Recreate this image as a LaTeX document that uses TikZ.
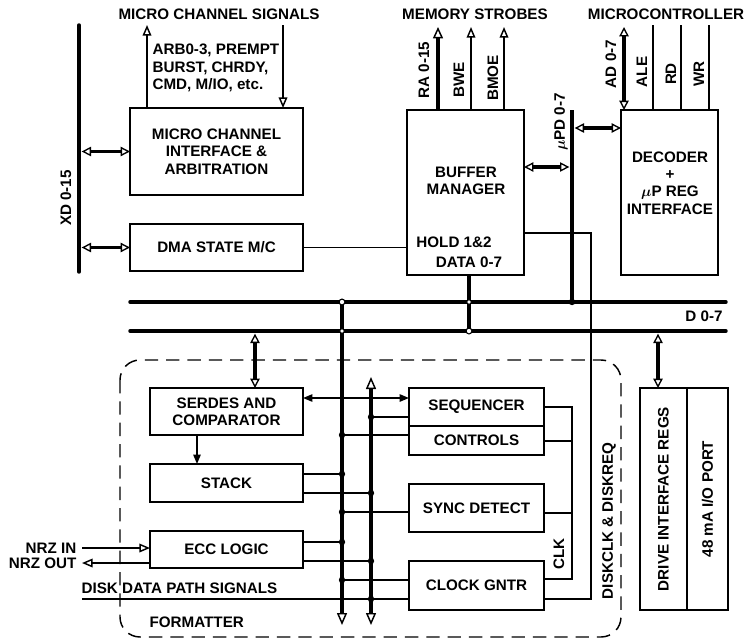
\documentclass[tikz,border=0pt]{standalone}
\usepackage{amsmath}
\usepackage{fontspec}
\setmainfont{Liberation Sans}
\usepackage{tikz}
\usetikzlibrary{positioning, arrows.meta}

\begin{document}
\begin{tikzpicture}[
    x=0.75pt, y=-0.75pt,
    node distance=21.75pt,
    every node/.style={font=\fontsize{11.4}{13}\selectfont\bfseries, inner sep=1pt},
    box/.style={rectangle, draw, line width=2.1pt, outer sep=0pt, align=center},
    bus/.style={line width=2.6pt},
    wire/.style={line width=1.1pt},
    sig/.style={line width=1.4pt, -{Triangle[open, fill=white, length=8pt, width=6.5pt, line width=1.1pt]}},
    fatsig/.style={line width=2.4pt, -{Triangle[open, fill=white, length=8.5pt, width=7.5pt, line width=1.1pt]}},
    dbl/.style={line width=2.4pt, {Triangle[open, fill=white, length=7pt, width=7pt, line width=1pt]}-{Triangle[open, fill=white, length=7pt, width=7pt, line width=1pt]}},
    arrow/.style={wire, -{Triangle[length=7pt, width=5.5pt]}},
    twoway/.style={wire, {Triangle[length=7pt, width=5.5pt]}-{Triangle[length=7pt, width=5.5pt]}},
    formatter/.style={line width=1.1pt, dash pattern=on 10pt off 6pt, rounded corners=15pt},
]
\useasboundingbox (0,0) rectangle (748,639);

% host side
\node[box, minimum width=129.75pt, minimum height=65.25pt] (mca) at (216.5,151.5)
    {MICRO CHANNEL\\INTERFACE \&\\ARBITRATION};
\node[box, below=of mca, minimum width=129.75pt, minimum height=35.25pt] (dma) {DMA STATE M/C};
\node[box, minimum width=87.75pt, minimum height=123.75pt] (buf) at (465.5,192.5) {};
\node[align=center] (buftxt) at (466,181) {BUFFER\\MANAGER};
\node (hold) at (454,242) {HOLD 1\&2};
\node (data) at (469,262) {DATA 0-7};
\node[box, minimum width=72.75pt, minimum height=123.75pt] (dec) at (669.5,192.5) {};
\node[align=center] (dectxt) at (670,183) {DECODER\\+\\$\boldsymbol{\mu}$P REG\\INTERFACE};

% formatter
\node[box, minimum width=114.75pt, minimum height=35.25pt] (serdes) at (226.5,411.5) {SERDES AND\\COMPARATOR};
\node[box, below=of serdes, minimum width=114.75pt, minimum height=28.5pt] (stack) {STACK};
\node[box, below=of stack, minimum width=114.75pt, minimum height=27.75pt] (ecc) {ECC LOGIC};
\node[box, minimum width=101.25pt, minimum height=28.5pt] (seq) at (476.5,407) {SEQUENCER};
\node[box, below=0pt of seq, minimum width=101.25pt, minimum height=21.75pt] (ctl) {CONTROLS};
\node[box, below=of ctl, minimum width=101.25pt, minimum height=36pt] (sync) {SYNC DETECT};
\node[box, below=of sync, minimum width=101.25pt, minimum height=36.75pt] (clk) {CLOCK GNTR};
\node[box, minimum width=35.25pt, minimum height=166.5pt] (drv) at (663.5,499) {};
\node[box, right=0pt of drv, minimum width=30.75pt, minimum height=166.5pt] (port) {};
\node[rotate=90] (drvtxt) at (drv) {DRIVE INTERFACE REGS};
\node[rotate=90] (porttxt) at (port) {48 mA I/O PORT};

\coordinate (fmtnw) at (120,360);
\coordinate (fmtse) at (621,637);
\draw[formatter] (fmtnw) rectangle (fmtse);

% bus end points
\coordinate (xdt) at (79,25);   \coordinate (xdb) at (79,272);
\coordinate (pdt) at (572,110); \coordinate (pdb) at (572,302);
\coordinate (ubl) at (130,302); \coordinate (ubr) at (726,302);
\coordinate (lbl) at (130,331); \coordinate (lbr) at (726,331);
\coordinate (aT) at (342,302);  \coordinate (aB) at (342,625);
\coordinate (bT) at (371,377);  \coordinate (bB) at (371,625);
\coordinate (dat) at (469,331);
\coordinate (dk1) at (591,233); \coordinate (dk2) at (591,599);
\coordinate (sdio) at (255,331); \coordinate (drvio) at (658,331);
\coordinate (pdm) at (572,167); \coordinate (pdd) at (572,128);
\coordinate (mcout) at (147,25); \coordinate (mcin) at (283,25);
\coordinate (ra) at (438,27);   \coordinate (bwe) at (471,27);   \coordinate (bmoe) at (504,27);
\coordinate (ad) at (624,27);   \coordinate (ale) at (653,25);
\coordinate (rd) at (681,25);   \coordinate (wr) at (709,25);
\coordinate (ck1) at (572,407); \coordinate (ckc) at (572,441);
\coordinate (cks) at (572,513); \coordinate (ck2) at (572,579);
\coordinate (jA1) at (342,435); \coordinate (jA2) at (342,474); \coordinate (jA3) at (342,512);
\coordinate (jA4) at (342,542); \coordinate (jA5) at (342,580);
\coordinate (jB1) at (371,417); \coordinate (jB2) at (371,493); \coordinate (jB3) at (371,561);
\coordinate (jB4) at (371,599);
\coordinate (sq) at (400,398);  \coordinate (ss) at (197,450);
\coordinate (nrzin) at (82,548); \coordinate (nrzout) at (82,563); \coordinate (ddp) at (82,599);

% buses
\draw[bus, line cap=round] (xdt) -- (xdb);
\draw[bus, line cap=round] (ubl) -- (ubr);
\draw[bus, line cap=round] (lbl) -- (lbr);
\draw[bus] (pdt) -- (pdb);
\draw[bus] (buf.south -| dat) -- (dat);
\draw[bus, -{Triangle[open, fill=white, length=9pt, width=7.5pt, line width=1.1pt]}] (aT) -- (aB);
\draw[bus, {Triangle[open, fill=white, length=9pt, width=7.5pt, line width=1.1pt]}-{Triangle[open, fill=white, length=9pt, width=7.5pt, line width=1.1pt]}] (bT) -- (bB);

% top signals
\draw[sig] (mcout |- mca.north) -- (mcout);
\draw[sig] (mcin) -- (mcin |- mca.north);
\draw[fatsig] (ra |- buf.north) -- (ra);
\draw[sig] (bwe |- buf.north) -- (bwe);
\draw[sig] (bmoe |- buf.north) -- (bmoe);
\draw[dbl] (ad) -- (ad |- dec.north);
\draw[wire, line width=1.3pt] (ale |- dec.north) -- (ale);
\draw[wire, line width=1.3pt] (rd |- dec.north) -- (rd);
\draw[wire, line width=1.3pt] (wr |- dec.north) -- (wr);

% bus links
\draw[dbl, shorten <=2pt] (mca.west -| xdt) -- (mca.west);
\draw[dbl, shorten <=2pt] (dma.west -| xdt) -- (dma.west);
\draw[dbl, shorten >=2pt] (buf.east |- pdm) -- (pdm);
\draw[dbl, shorten <=2pt] (pdd) -- (pdd -| dec.west);
\draw[dbl, shorten <=2pt] (sdio) -- (sdio |- serdes.north);
\draw[dbl, shorten <=2pt] (drvio) -- (drvio |- drv.north);
\draw[wire] (dma.east) -- (dma.east -| buf.west);
\draw[wire] (buf.east |- dk1) -- (dk1) -- (dk2) -- (clk.east |- dk2);

% formatter wiring
\draw[twoway] (serdes.east |- sq) -- (seq.west |- sq);
\draw[arrow] (serdes.south -| ss) -- (stack.north -| ss);
\draw[wire] (seq.west |- jB1) -- (jB1);
\draw[wire] (ctl.west |- jA1) -- (jA1);
\draw[wire] (stack.east |- jA2) -- (jA2);
\draw[wire] (stack.east |- jB2) -- (jB2);
\draw[wire] (sync.west |- jA3) -- (jA3);
\draw[wire] (ecc.east |- jA4) -- (jA4);
\draw[wire] (ecc.east |- jB3) -- (jB3);
\draw[wire] (clk.west |- jA5) -- (jA5);
\draw[wire] (ddp) -- (clk.west |- ddp);
\draw[wire] (seq.east |- ck1) -- (ck1) -- (ck2) -- (clk.east |- ck2);
\draw[wire] (ctl.east |- ckc) -- (ckc);
\draw[wire] (sync.east |- cks) -- (cks);
\draw[sig, line width=1.1pt] (nrzin) -- (nrzin -| ecc.west);
\draw[sig, line width=1.1pt] (nrzout -| ecc.west) -- (nrzout);

% junction dots
\foreach \j in {jA1, jA2, jA3, jA4, jA5, jB1, jB2, jB3, jB4, pdb}
    \fill (\j) circle (2.4pt);
\foreach \j in {aT, dat}
    \filldraw[fill=white, line width=0.8pt] (\j) circle (2.2pt);
\filldraw[fill=white, line width=0.6pt] (aT |- lbl) circle (1.6pt);
\filldraw[fill=white, line width=0.6pt] (dat |- ubl) circle (1.6pt);

% labels
\node (mcsigs) at (219,14) {MICRO CHANNEL SIGNALS};
\node (memstr) at (475,14) {MEMORY STROBES};
\node (uctrl) at (666,14) {MICROCONTROLLER};
\node[align=left, anchor=west] (mclist) at (151,68) {ARB0-3, PREMPT\\BURST, CHRDY,\\CMD, M/IO, etc.};
\node[rotate=90] (xdlbl) at (66,198) {XD 0-15};
\node[rotate=90] (ralbl) at (424,70) {RA 0-15};
\node[rotate=90] (bwelbl) at (459,80) {BWE};
\node[rotate=90] (bmoelbl) at (493,78) {BMOE};
\node[rotate=90] (pdlbl) at (561,122) {$\boldsymbol{\mu}$PD 0-7};
\node[rotate=90] (adlbl) at (611,64) {AD 0-7};
\node[rotate=90] (alelbl) at (642,72) {ALE};
\node[rotate=90] (rdlbl) at (671,74) {RD};
\node[rotate=90] (wrlbl) at (699,74) {WR};
\node (dbuslbl) at (704,316) {D 0-7};
\node[rotate=90] (dsklbl) at (609,521) {DISKCLK \& DISKREQ};
\node[rotate=90] (clklbl) at (559,554) {CLK};
\node[anchor=east] (nrzinlbl) at (78,548) {NRZ IN};
\node[anchor=east] (nrzoutlbl) at (78,563) {NRZ OUT};
\node[anchor=west] (ddplbl) at (80,588) {DISK DATA PATH SIGNALS};
\node[anchor=west] (fmtlbl) at (148,622) {FORMATTER};
\end{tikzpicture}
\end{document}
